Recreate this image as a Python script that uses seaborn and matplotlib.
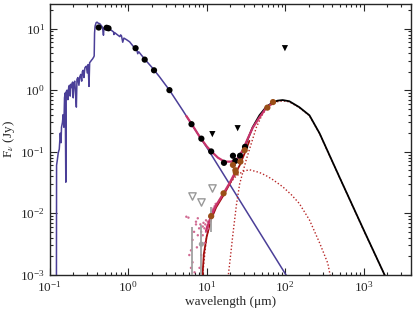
import numpy as np
import matplotlib
matplotlib.use("Agg")
import matplotlib.pyplot as plt
import seaborn as sns

# --- photosphere model (blue) ---
star_wl = [0.1215, 0.1220, 0.125, 0.128, 0.132, 0.136, 0.139, 0.141, 0.145, 0.148,
           0.151, 0.154, 0.157, 0.160, 0.162, 0.166, 0.170, 0.174, 0.178, 0.182,
           0.186, 0.190, 0.195, 0.199, 0.203, 0.208, 0.213, 0.218, 0.222, 0.228,
           0.235, 0.241, 0.248, 0.255, 0.260, 0.266, 0.272, 0.280, 0.287, 0.293,
           0.300, 0.308, 0.316, 0.322, 0.330, 0.339, 0.350, 0.363, 0.368, 0.372,
           0.378, 0.390, 0.400, 0.415, 0.433, 0.450, 0.470, 0.483, 0.490, 0.52,
           0.56, 0.60, 0.65, 0.656, 0.67, 0.72, 0.78, 0.80, 0.82, 0.85, 0.88,
           0.95, 1.04, 1.15, 1.25, 1.29, 1.32, 1.36, 1.5, 1.65, 2.0, 2.5, 3.35,
           5.0, 6.4, 10, 20, 50, 100, 120]
star_fl = [0.0009, 0.06, 0.075, 0.095, 0.11, 0.20, 0.14, 0.25, 0.30, 0.40,
           0.25, 0.75, 0.9, 0.032, 0.95, 1.0, 0.7, 1.1, 1.2, 0.8,
           1.25, 1.1, 1.35, 0.75, 1.3, 1.4, 0.9, 0.53, 1.5, 1.6,
           1.2, 1.65, 1.8, 1.4, 2.0, 2.1, 1.6, 2.3, 2.4, 2.45,
           1.9, 2.6, 1.15, 2.8, 2.9, 3.05, 3.2, 3.45, 3.6, 8.5,
           11.0, 12.5, 12.7, 12.2, 12.0, 11.3, 10.5, 7.8, 10.2, 10.3,
           10.0, 9.5, 8.8, 8.0, 8.6, 8.0, 7.4, 7.9, 7.6, 6.0, 7.0,
           6.6, 6.1, 5.2, 4.6, 4.4, 3.9, 4.2, 3.6, 3.1, 2.35, 1.65, 1.0,
           0.46, 0.28, 0.118, 0.0285, 0.00435, 0.00105, 0.00072]

# --- total model star + dust (crimson) ---
tot_wl = [5.5, 6.4, 8.1, 10, 11.4, 13.9, 16.9, 20.5, 24.9, 28.8, 33.4, 38.6, 47, 57, 65]
tot_fl = [0.38, 0.285, 0.176, 0.122, 0.102, 0.080, 0.069, 0.069, 0.078, 0.106,
          0.164, 0.245, 0.36, 0.51, 0.58]

# --- full model long wavelengths (black) ---
full_wl = [26.3, 30.5, 38.5, 47, 57, 69, 80, 93, 113, 151, 204, 275, 367, 500, 1000, 1850, 2100]
full_fl = [0.083, 0.12, 0.25, 0.39, 0.53, 0.63, 0.675, 0.69, 0.66, 0.53, 0.39, 0.198,
           0.088, 0.037, 0.0054, 0.001, 0.0007]

# --- dust sum (dark red) ---
dust_wl = [8.8, 9.2, 10.0, 11.4, 13.2, 16.5, 19.6, 22.6, 26.3, 30.5, 35]
dust_fl = [0.0009, 0.0022, 0.0042, 0.0080, 0.0125, 0.020, 0.030, 0.042, 0.060, 0.095, 0.15]

# --- IRS excess fit (crimson) ---
irs_wl = [9.8, 11.4, 13.2, 16.5, 19.6, 22.6, 24.5]
irs_fl = [0.0052, 0.0092, 0.0135, 0.0215, 0.031, 0.044, 0.052]

# --- dust components (dotted) ---
warm_wl = [8.8, 9.9, 11.4, 13.2, 16.5, 19.6, 22.6, 26.3, 29, 35, 47, 57, 70, 93,
           120, 151, 204, 275, 349, 380]
warm_fl = [0.0009, 0.0039, 0.0088, 0.0136, 0.021, 0.030, 0.038, 0.044, 0.048, 0.051,
           0.046, 0.041, 0.035, 0.027, 0.020, 0.0145, 0.0078, 0.0033, 0.00155, 0.0009]
cold_wl = [18.7, 20, 21.5, 23.9, 26.3, 31.7, 38.5, 43, 50, 57, 69, 80, 93, 113, 151,
           204, 275, 367, 500, 1000, 1850, 2100]
cold_fl = [0.0009, 0.0019, 0.0044, 0.0136, 0.030, 0.072, 0.16, 0.25, 0.38, 0.49, 0.60,
           0.65, 0.67, 0.645, 0.52, 0.385, 0.196, 0.087, 0.037, 0.0053, 0.001, 0.0007]

# --- photometry ---
phot_wl = [0.42, 0.53, 0.56, 1.24, 1.62, 2.13, 3.35, 6.4, 8.55, 11.4, 16.6, 21.6, 23.2, 26.6, 30.8]
phot_fl = [10.4, 10.3, 10.1, 4.8, 3.13, 2.1, 1.0, 0.28, 0.163, 0.101, 0.066, 0.086, 0.071, 0.086, 0.12]

ulim_wl = [11.8, 24.8, 99.3]
ulim_fl = [0.193, 0.241, 4.8]

exc_wl = [11.4, 16.4, 21.6, 23.2, 23.5, 26.9, 30.5, 59.3, 70]
exc_fl = [0.0090, 0.0211, 0.061, 0.050, 0.046, 0.069, 0.106, 0.52, 0.64]

gray_ul_wl = [6.4, 8.55, 11.6]
gray_ul_fl = [0.0193, 0.0151, 0.0254]

# gray points with error bars (first one has no visible centre)
gray_wl = [6.4, 8.55, 11.5]
gray_fl = [0.0028, 0.00315, 0.0089]
gray_lo = [0.00279, 0.003145, 0.0039]
gray_hi = [0.0033, 0.0032, 0.0039]
gray_dot_wl = [8.55, 11.5]
gray_dot_fl = [0.00315, 0.0089]

# IRS spectrum points (excess)
spec_wl = [5.5, 5.85, 6.0, 6.3, 6.3, 6.6, 6.6, 6.9, 7.0, 7.3, 7.3, 7.5, 7.7, 7.7, 8.0,
           8.1, 8.3, 8.5, 8.5, 8.9, 8.9, 9.1, 9.35, 9.4, 9.6, 9.8, 9.8, 10.1, 10.3,
           10.5, 10.8, 11.0, 11.2, 11.6, 11.9, 12.2, 12.6, 13.0]
spec_fl = [0.0088, 0.0085, 0.0021, 0.0025, 0.0013, 0.0016, 0.0037, 0.0050, 0.0011,
           0.0073, 0.0066, 0.0028, 0.0083, 0.0044, 0.0057, 0.0013, 0.0066, 0.0050,
           0.0021, 0.0061, 0.0044, 0.0070, 0.0057, 0.0033, 0.0066, 0.0050, 0.0077,
           0.0061, 0.0073, 0.0057, 0.0088, 0.0070, 0.0095, 0.0105, 0.0113, 0.0120,
           0.0130, 0.0142]

sns.set_style("ticks")
plt.rcParams["font.family"] = ["Liberation Serif", "DejaVu Serif"]
plt.rcParams["mathtext.fontset"] = "stix"
plt.rcParams["xtick.direction"] = "in"
plt.rcParams["ytick.direction"] = "in"

fig = plt.figure(figsize=(4.15, 3.12), dpi=100)
ax = fig.add_axes([0.12, 0.119, 0.87, 0.868])
ax.set_xscale("log")
ax.set_yscale("log")

c_blue = "#4b3f98"
c_dred = "#a30d0d"
c_crim = "#c8346b"
c_dot = "#b82828"

sns.lineplot(x=star_wl, y=star_fl, color=c_blue, lw=1.1, estimator=None, sort=False, ax=ax, zorder=2)
sns.lineplot(x=warm_wl, y=warm_fl, color=c_dot, lw=1.0, ls=(0, (1, 1.5)), estimator=None, sort=False, ax=ax, zorder=2)
sns.lineplot(x=cold_wl, y=cold_fl, color=c_dot, lw=1.0, ls=(0, (1, 1.5)), estimator=None, sort=False, ax=ax, zorder=2)
sns.lineplot(x=dust_wl, y=dust_fl, color=c_dred, lw=1.3, estimator=None, sort=False, ax=ax, zorder=3)
sns.lineplot(x=full_wl, y=full_fl, color="black", lw=1.3, estimator=None, sort=False, ax=ax, zorder=3)
sns.lineplot(x=tot_wl, y=tot_fl, color=c_crim, lw=1.6, estimator=None, sort=False, ax=ax, zorder=4)
sns.lineplot(x=irs_wl, y=irs_fl, color=c_crim, lw=1.6, estimator=None, sort=False, ax=ax, zorder=4)

sns.scatterplot(x=spec_wl, y=spec_fl, color="#d06a92", s=3, edgecolor="none", ax=ax, zorder=3)
ax.errorbar(gray_wl, gray_fl, yerr=[gray_lo, gray_hi], fmt="none", ecolor="#a0a0a0",
            elinewidth=1.3, capsize=0, zorder=4)
sns.scatterplot(x=gray_dot_wl, y=gray_dot_fl, color="#a0a0a0", s=14, edgecolor="none", ax=ax, zorder=4)
sns.scatterplot(x=gray_ul_wl, y=gray_ul_fl, marker="v", s=28, facecolor="white",
                edgecolor="#999999", linewidth=1.0, ax=ax, zorder=5)
sns.scatterplot(x=phot_wl, y=phot_fl, color="black", s=20, edgecolor="none", ax=ax, zorder=6)
sns.scatterplot(x=ulim_wl, y=ulim_fl, color="black", marker="v", s=20, edgecolor="none", ax=ax, zorder=6)
sns.scatterplot(x=exc_wl, y=exc_fl, color="#9a4e17", s=20, edgecolor="none", ax=ax, zorder=7)

ax.set_xlim(0.1, 4000)
ax.set_ylim(1e-3, 25)
ax.set_xlabel("wavelength (\u03bcm)", fontsize=9.5, labelpad=1)
ax.set_ylabel(r"F$_\nu$ (Jy)", fontsize=9.5, labelpad=2)
ax.tick_params(which="both", top=True, right=True, labelsize=9.5, width=0.8)
ax.tick_params(which="major", length=5)
ax.tick_params(which="minor", length=2.5)
for sp in ax.spines.values():
    sp.set_linewidth(1.0)

fig.savefig("out.png", dpi=100)
